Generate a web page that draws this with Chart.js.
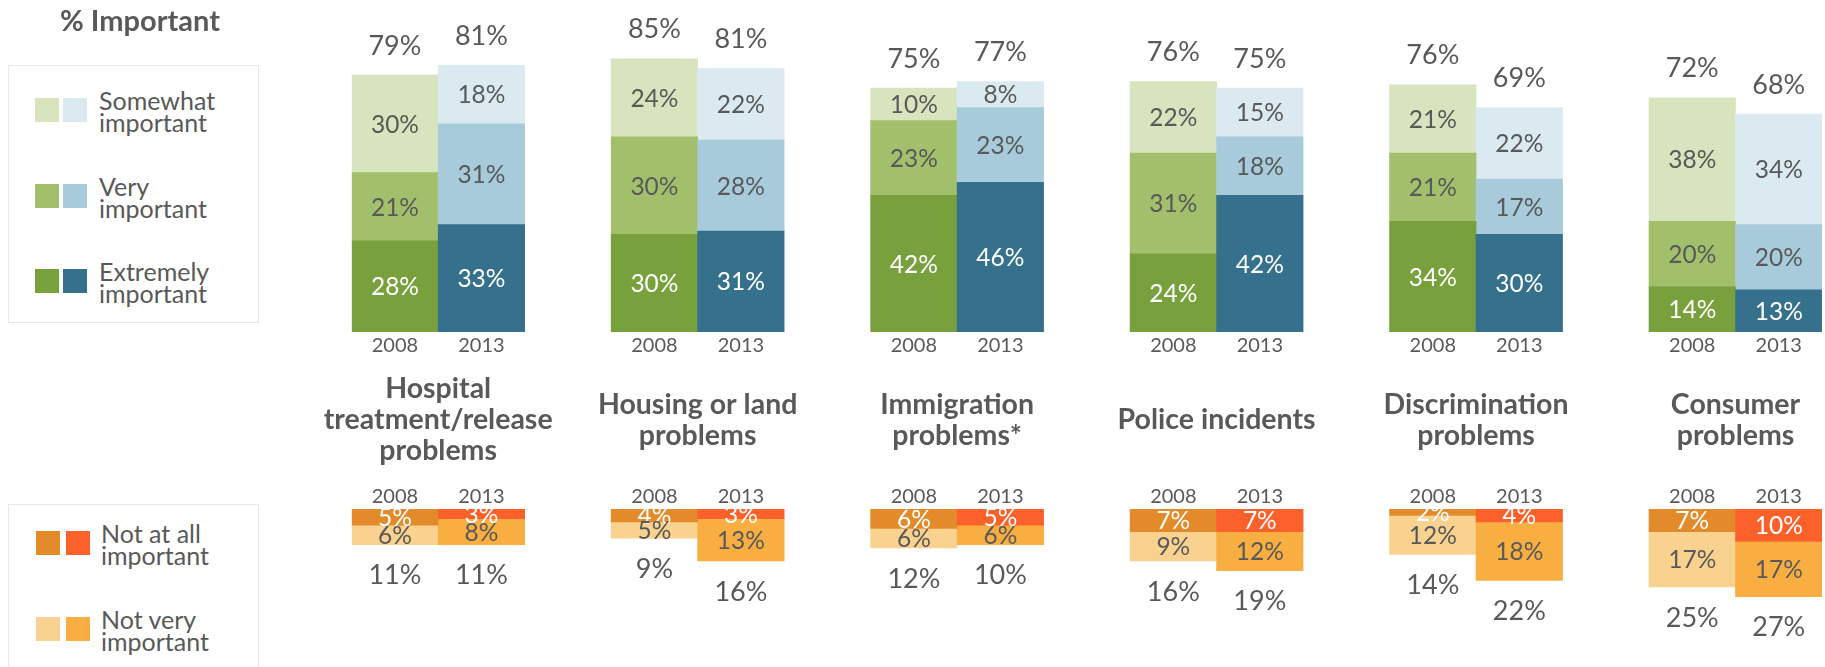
<!DOCTYPE html>
<html>
<head>
<meta charset="utf-8">
<script src="https://cdn.jsdelivr.net/npm/chart.js@4.4.0/dist/chart.umd.min.js"></script>
<style>
  html, body { margin:0; padding:0; background:#fff; width:1825px; height:667px; overflow:hidden; font-family: Lato, "Open Sans", sans-serif; color:#595959; }
  canvas { position:absolute; left:0; }
  #pos { top:0; }
  #neg { top:355px; }
  .title { position:absolute; left:10px; width:260px; top:2px; text-align:center; font-weight:bold; font-size:29px; color:#595959; }
  .lbox { position:absolute; left:8px; width:249px; border:1.5px solid #e8e8e8; background:#fff; }
  .sw { position:absolute; width:24px; height:24px; }
  .lt { position:absolute; font-size:25px; line-height:22px; color:#595959; white-space:nowrap; }
</style>
</head>
<body>
<canvas id="pos" width="1825" height="372"></canvas>
<canvas id="neg" width="1825" height="312"></canvas>

<div class="title">% Important</div>

<div class="lbox" style="top:65px;height:256px;">
  <div class="sw" style="left:26px;top:32px;background:#D7E4BD"></div>
  <div class="sw" style="left:54px;top:32px;background:#DBEAF0"></div>
  <div class="lt" style="left:90px;top:23px;">Somewhat<br>important</div>
  <div class="sw" style="left:26px;top:118px;background:#A2C06B"></div>
  <div class="sw" style="left:54px;top:118px;background:#A8CBDC"></div>
  <div class="lt" style="left:90px;top:109px;">Very<br>important</div>
  <div class="sw" style="left:26px;top:203px;background:#78A03C"></div>
  <div class="sw" style="left:54px;top:203px;background:#35708C"></div>
  <div class="lt" style="left:90px;top:194px;">Extremely<br>important</div>
</div>

<div class="lbox" style="top:504px;height:200px;">
  <div class="sw" style="left:27px;top:26px;background:#E38B2A"></div>
  <div class="sw" style="left:57px;top:26px;background:#FC612C"></div>
  <div class="lt" style="left:92px;top:17px;">Not at all<br>important</div>
  <div class="sw" style="left:27px;top:112px;background:#F9D28F"></div>
  <div class="sw" style="left:57px;top:112px;background:#F8AE41"></div>
  <div class="lt" style="left:92px;top:103px;">Not very<br>important</div>
</div>

<script>
// ---- data ----
const years = ["2008", "2013"];
const problems = [
  ["Hospital", "treatment/release", "problems"],
  ["Housing or land", "problems"],
  ["Immigration", "problems*"],
  ["Police incidents"],
  ["Discrimination", "problems"],
  ["Consumer", "problems"]
];
const somewhat2008  = [30, 24, 10, 22, 21, 38];
const very2008      = [21, 30, 23, 31, 21, 20];
const extremely2008 = [28, 30, 42, 24, 34, 14];
const total2008     = [79, 85, 75, 76, 76, 72];
const somewhat2013  = [18, 22, 8, 15, 22, 34];
const very2013      = [31, 28, 23, 18, 17, 20];
const extremely2013 = [33, 31, 46, 42, 30, 13];
const total2013     = [81, 81, 77, 75, 69, 68];

const notAtAll2008  = [5, 4, 6, 7, 2, 7];
const notVery2008   = [6, 5, 6, 9, 12, 17];
const notTotal2008  = [11, 9, 12, 16, 14, 25];
const notAtAll2013  = [3, 3, 5, 7, 4, 10];
const notVery2013   = [8, 13, 6, 12, 18, 17];
const notTotal2013  = [11, 16, 10, 19, 22, 27];

// ---- build category layout: 2008, 2013, gap ----
const labels = [];
problems.forEach((p, i) => { labels.push(years[0], years[1]); if (i < problems.length - 1) labels.push(""); });

function spread(a, b) {
  const out = [];
  a.forEach((v, i) => { out.push(a[i], b[i]); if (i < a.length - 1) out.push(null); });
  return out;
}
function colors(c1, c2) {
  const out = [];
  problems.forEach((p, i) => { out.push(c1, c2); if (i < problems.length - 1) out.push('rgba(0,0,0,0)'); });
  return out;
}

const TEXT = '#595959';
const FONT = 'Lato';

function ds(label, a, b, c1, c2, txt) {
  return {
    label, data: spread(a, b), backgroundColor: colors(c1, c2),
    barPercentage: 1, categoryPercentage: 1, borderWidth: 0, labelColor: txt
  };
}

const labelPlugin = {
  id: 'segLabels',
  afterDatasetsDraw(chart, args, opts) {
    const ctx = chart.ctx;
    ctx.save();
    ctx.textAlign = 'center';
    ctx.textBaseline = 'middle';
    const n = chart.data.datasets.length;
    chart.data.datasets.forEach((d, di) => {
      const meta = chart.getDatasetMeta(di);
      meta.data.forEach((el, k) => {
        const v = d.data[k];
        if (v === null || v === undefined) return;
        ctx.font = '24.5px ' + FONT;
        ctx.fillStyle = d.labelColor;
        ctx.fillText(v + '%', el.x, (el.y + el.base) / 2 + 1);
        if (di === n - 1) {
          const g = Math.floor(k / 3), yr = k % 3;
          const tot = yr === 0 ? opts.t1[g] : opts.t2[g];
          ctx.font = '27px ' + FONT;
          ctx.fillStyle = TEXT;
          if (opts.up) {
            ctx.fillText(tot + '%', el.x, Math.min(el.y, el.base) - 29);
          } else {
            ctx.fillText(tot + '%', el.x, Math.max(el.y, el.base) + 31);
          }
        }
      });
    });
    ctx.restore();
  }
};

const titlePlugin = {
  id: 'groupTitles',
  afterDraw(chart, args, opts) {
    if (!opts.show) return;
    const ctx = chart.ctx, xs = chart.scales.x;
    ctx.save();
    ctx.textAlign = 'center';
    ctx.textBaseline = 'middle';
    ctx.font = 'bold 28.5px ' + FONT;
    ctx.fillStyle = TEXT;
    problems.forEach((lines, i) => {
      const cx = (xs.getPixelForValue(3 * i) + xs.getPixelForValue(3 * i + 1)) / 2;
      const lh = 31;
      const y0 = opts.cy - (lines.length - 1) * lh / 2;
      lines.forEach((ln, j) => ctx.fillText(ln, cx, y0 + j * lh));
    });
    ctx.restore();
  }
};

const xTicks = { color: TEXT, font: { family: FONT, size: 20 }, autoSkip: false, maxRotation: 0 };

new Chart(document.getElementById('pos'), {
  type: 'bar',
  data: {
    labels,
    datasets: [
      ds('Extremely important', extremely2008, extremely2013, '#78A03C', '#35708C', '#ffffff'),
      ds('Very important', very2008, very2013, '#A2C06B', '#A8CBDC', TEXT),
      ds('Somewhat important', somewhat2008, somewhat2013, '#D7E4BD', '#DBEAF0', TEXT)
    ]
  },
  options: {
    responsive: false, animation: false, devicePixelRatio: 1,
    layout: { padding: { left: 351.7, right: 3, top: 6.7, bottom: 0 } },
    plugins: { legend: { display: false }, tooltip: { enabled: false },
      segLabels: { t1: total2008, t2: total2013, up: true }, groupTitles: { show: false } },
    scales: {
      x: { stacked: true, grid: { display: false, drawTicks: false }, border: { display: false },
           ticks: Object.assign({ padding: 2 }, xTicks), afterFit(s) { s.height = 40; } },
      y: { stacked: true, display: false, min: 0, max: 100 }
    }
  },
  plugins: [labelPlugin, titlePlugin]
});

new Chart(document.getElementById('neg'), {
  type: 'bar',
  data: {
    labels,
    datasets: [
      ds('Not at all important', notAtAll2008, notAtAll2013, '#E38B2A', '#FC612C', '#ffffff'),
      ds('Not very important', notVery2008, notVery2013, '#F9D28F', '#F8AE41', TEXT)
    ]
  },
  options: {
    responsive: false, animation: false, devicePixelRatio: 1,
    layout: { padding: { left: 351.7, right: 3, top: 114, bottom: 11.75 } },
    plugins: { legend: { display: false }, tooltip: { enabled: false },
      segLabels: { t1: notTotal2008, t2: notTotal2013, up: false }, groupTitles: { show: true, cy: 65 } },
    scales: {
      x: { position: 'top', stacked: true, grid: { display: false, drawTicks: false }, border: { display: false },
           ticks: Object.assign({ padding: 0 }, xTicks), afterFit(s) { s.height = 40; } },
      y: { stacked: true, display: false, reverse: true, min: 0, max: 45 }
    }
  },
  plugins: [labelPlugin, titlePlugin]
});
</script>
</body>
</html>
